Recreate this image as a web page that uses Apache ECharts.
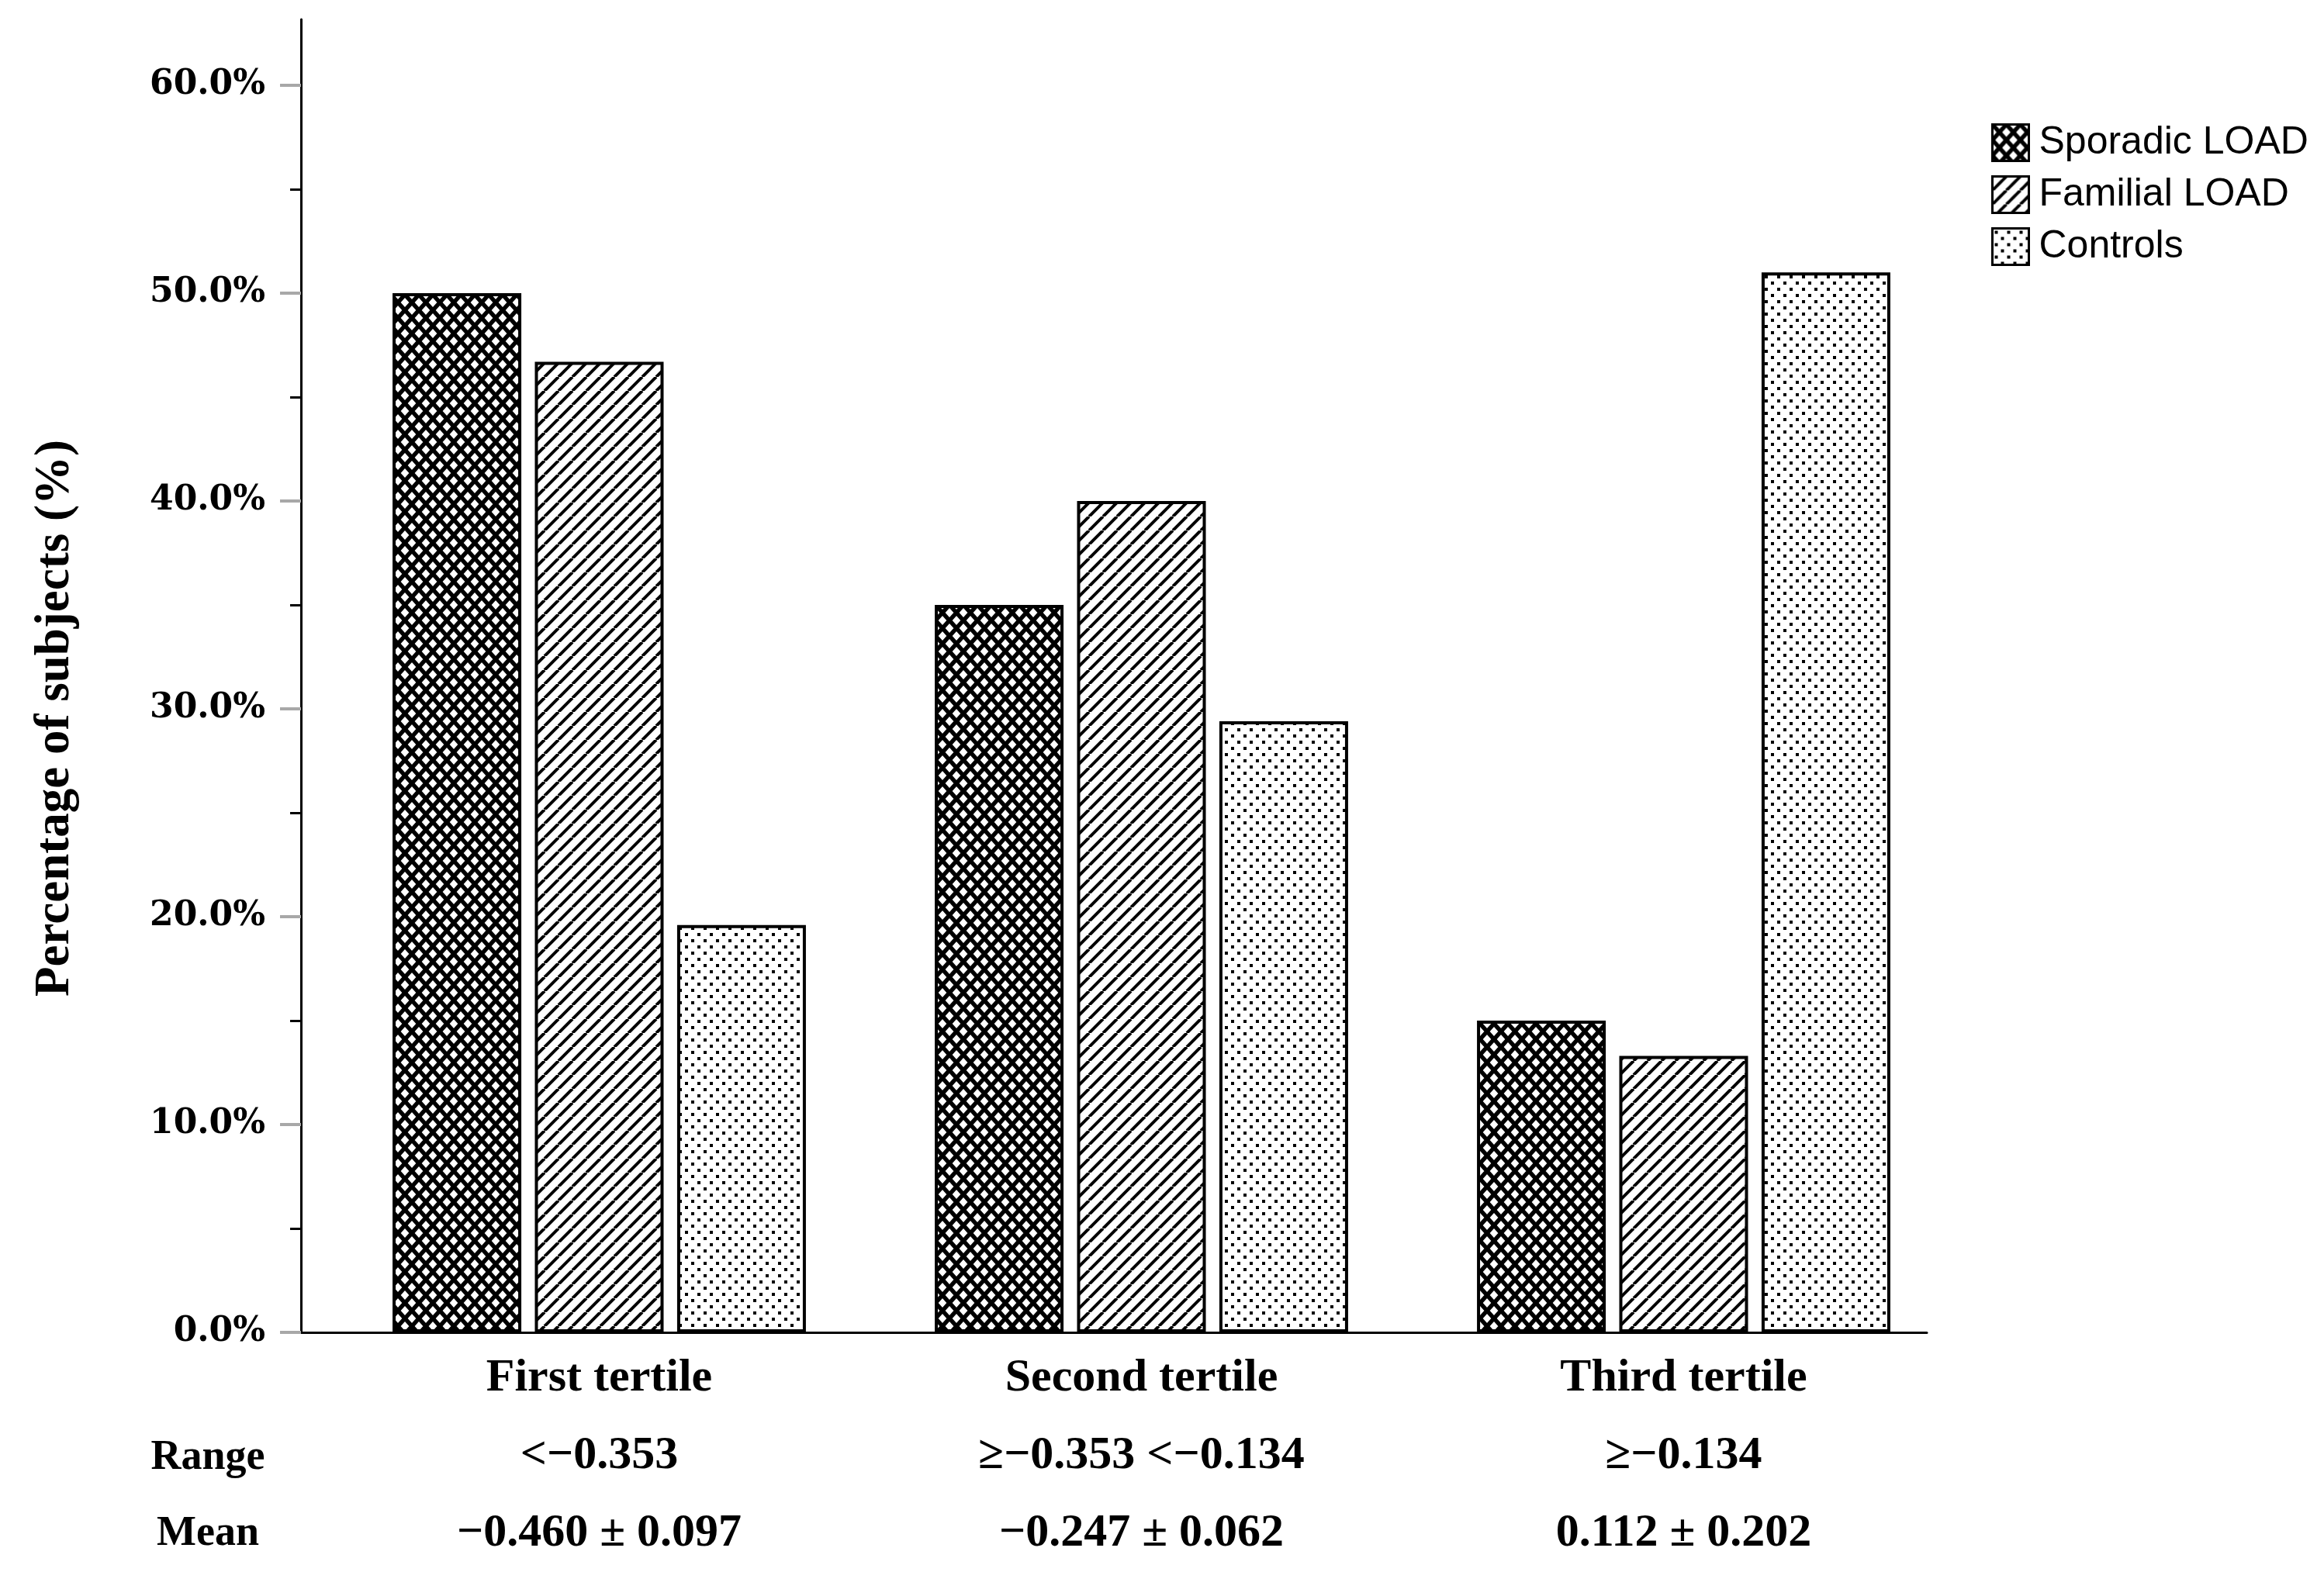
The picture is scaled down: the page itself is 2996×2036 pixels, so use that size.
<!DOCTYPE html>
<html>
<head>
<meta charset="utf-8">
<script src="https://cdn.jsdelivr.net/npm/echarts@6/dist/echarts.min.js"></script>
<style>
    html, body { margin: 0; padding: 0; background: #fff; }
    #chart { width: 2996px; height: 2036px; }
</style>
</head>
<body>
<div id="chart"></div>
<script>
let categories = ['First tertile', 'Second tertile', 'Third tertile'];
let sporadic = [50.0, 35.0, 15.0];
let familial = [46.7, 40.0, 13.3];
let controls = [19.6, 29.4, 51.0];
let yTicks = [0, 10, 20, 30, 40, 50, 60];
let yMinorTicks = [5, 15, 25, 35, 45, 55];
let rangeLabels = ['<−0.353', '≥−0.353 <−0.134', '≥−0.134'];
let meanLabels = ['−0.460 ± 0.097', '−0.247 ± 0.062', '0.112 ± 0.202'];

let yMax = 63.17;
let serif = '"Liberation Serif", "Times New Roman", serif';

// patterns
let makeTile = (w, h, draw) => {
    let c = document.createElement('canvas');
    c.width = w;
    c.height = h;
    let g = c.getContext('2d');
    g.fillStyle = '#fff';
    g.fillRect(0, 0, w, h);
    draw(g, w, h);
    return { image: c, repeat: 'repeat' };
};

let crossHatch = makeTile(18, 20, (g, w, h) => {
    g.strokeStyle = '#000';
    g.lineWidth = 5.5;
    g.beginPath();
    [-w, 0, w].forEach(d => {
        g.moveTo(d, 0); g.lineTo(d + w, h);
        g.moveTo(d, h); g.lineTo(d + w, 0);
    });
    g.stroke();
});

let diagonal = makeTile(18, 18, (g, w, h) => {
    g.strokeStyle = '#000';
    g.lineWidth = 4;
    g.beginPath();
    [-w, 0, w].forEach(d => {
        g.moveTo(d, h); g.lineTo(d + w, 0);
    });
    g.stroke();
});

let dots = makeTile(16, 16, g => {
    g.fillStyle = '#000';
    g.fillRect(3, 3, 4, 4);
    g.fillRect(11, 11, 4, 4);
});

let barStyle = fill => ({
    color: fill,
    borderColor: '#000',
    borderWidth: 4
});

let myChart = echarts.init(document.getElementById('chart'));

let option = {
    backgroundColor: '#fff',
    animation: false,
    grid: [
        // bars
        { left: 423, right: 476, top: 25, bottom: 318, outerBoundsMode: 'none' },
        // visible axes
        { left: 388, right: 512, top: 25, bottom: 318, outerBoundsMode: 'none' }
    ],
    legend: {
        orient: 'vertical',
        left: 2562,
        top: 154,
        itemWidth: 47,
        itemHeight: 47,
        itemGap: 17,
        icon: 'rect',
        itemStyle: { borderColor: '#000', borderWidth: 3 },
        textStyle: {
            fontFamily: '"Liberation Sans", Arial, sans-serif',
            fontSize: 50,
            color: '#000',
            lineHeight: 47,
            padding: [0, 0, 0, 8]
        },
        data: ['Sporadic LOAD', 'Familial LOAD', 'Controls']
    },
    xAxis: [
        {
            type: 'category',
            gridIndex: 0,
            data: categories,
            axisLine: { show: false },
            axisTick: { show: false },
            axisLabel: {
                interval: 0,
                margin: 9,
                formatter: (value, i) => `{t|${value}}\n{v|${rangeLabels[i]}}\n{v|${meanLabels[i]}}`,
                rich: {
                    t: { fontFamily: serif, fontWeight: 'bold', fontSize: 60, lineHeight: 100, color: '#000' },
                    v: { fontFamily: serif, fontWeight: 'bold', fontSize: 60, lineHeight: 100, color: '#000' }
                }
            }
        },
        {
            type: 'value',
            gridIndex: 1,
            min: 0,
            max: 1,
            axisLine: { show: true, lineStyle: { color: '#000', width: 3 } },
            axisTick: { show: false },
            axisLabel: { show: false },
            splitLine: { show: false }
        }
    ],
    yAxis: [
        {
            type: 'value',
            gridIndex: 0,
            min: 0,
            max: yMax,
            show: false
        },
        {
            type: 'value',
            gridIndex: 1,
            position: 'left',
            min: 0,
            max: yMax,
            axisLine: { show: true, lineStyle: { color: '#000', width: 3 } },
            axisTick: {
                show: true,
                length: 27,
                customValues: yTicks,
                lineStyle: { color: '#a8a8a8', width: 4 }
            },
            axisLabel: {
                customValues: yTicks,
                margin: 46,
                formatter: v => v.toFixed(1) + '%',
                fontFamily: '"DejaVu Serif", serif',
                fontWeight: 'bold',
                fontSize: 44,
                color: '#000'
            },
            splitLine: { show: false }
        },
        {
            type: 'value',
            gridIndex: 1,
            position: 'left',
            min: 0,
            max: yMax,
            axisLine: { show: false },
            axisTick: {
                show: true,
                length: 14,
                customValues: yMinorTicks,
                lineStyle: { color: '#000', width: 3 }
            },
            axisLabel: { show: false },
            splitLine: { show: false }
        }
    ],
    graphic: [
        {
            type: 'text',
            x: 72,
            y: 926,
            rotation: Math.PI / 2,
            style: {
                text: 'Percentage of subjects (%)',
                fontFamily: serif,
                fontWeight: 'bold',
                fontSize: 63,
                fill: '#000',
                align: 'center',
                verticalAlign: 'middle'
            }
        },
        {
            type: 'text',
            x: 268,
            y: 1880,
            style: {
                text: 'Range',
                fontFamily: serif,
                fontWeight: 'bold',
                fontSize: 54,
                fill: '#000',
                align: 'center',
                verticalAlign: 'middle'
            }
        },
        {
            type: 'text',
            x: 268,
            y: 1978,
            style: {
                text: 'Mean',
                fontFamily: serif,
                fontWeight: 'bold',
                fontSize: 54,
                fill: '#000',
                align: 'center',
                verticalAlign: 'middle'
            }
        }
    ],
    series: [
        {
            name: 'Sporadic LOAD',
            type: 'bar',
            xAxisIndex: 0,
            yAxisIndex: 0,
            barWidth: 166,
            barGap: '10.5%',
            itemStyle: barStyle(crossHatch),
            data: sporadic
        },
        {
            name: 'Familial LOAD',
            type: 'bar',
            xAxisIndex: 0,
            yAxisIndex: 0,
            barWidth: 166,
            barGap: '10.5%',
            itemStyle: barStyle(diagonal),
            data: familial
        },
        {
            name: 'Controls',
            type: 'bar',
            xAxisIndex: 0,
            yAxisIndex: 0,
            barWidth: 166,
            barGap: '10.5%',
            itemStyle: barStyle(dots),
            data: controls
        }
    ]
};

myChart.setOption(option);
</script>
</body>
</html>
